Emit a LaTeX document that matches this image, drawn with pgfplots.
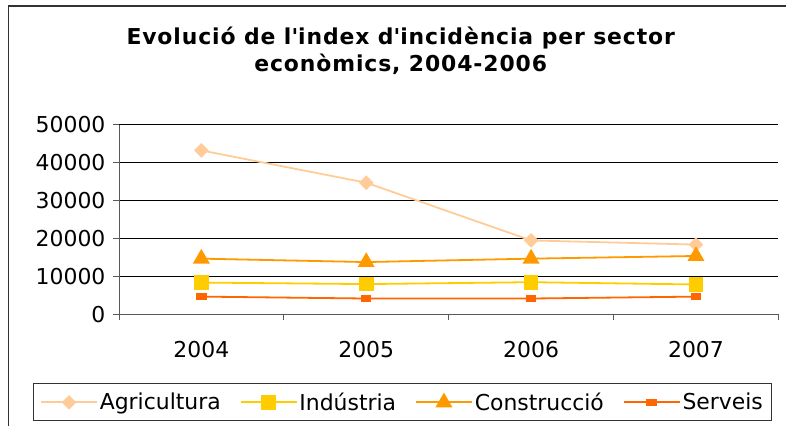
\documentclass[border=0pt]{standalone}
\usepackage{pgfplots}
\pgfplotsset{compat=1.18}
\usepackage{fontspec}
\setmainfont{DejaVu Sans}
\definecolor{cAgr}{HTML}{FFCC99}
\definecolor{cInd}{HTML}{FFCC00}
\definecolor{cCon}{HTML}{FF9900}
\definecolor{cSer}{HTML}{FF6600}
\begin{document}
\begin{tikzpicture}[x=1bp,y=1bp]
\path (0,0) rectangle (787,426);
\draw[line width=1.2bp,black!80] (8.5,0) -- (8.5,420) -- (787,420);
\node[align=center,font=\fontsize{22}{27}\selectfont\bfseries\addfontfeatures{LetterSpace=4}] at (401,375) {Evolució de l\textquotesingle index d\textquotesingle incidència per sector\\econòmics, 2004-2006};
\begin{axis}[
  at={(119bp,111.3bp)}, anchor=south west,
  scale only axis, width=660bp, height=190bp,
  xmin=0.5, xmax=4.5, ymin=0, ymax=50000,
  xtick={1,2,3,4}, xticklabels={2004,2005,2006,2007},
  minor xtick={0.5,1.5,2.5,3.5,4.5},
  major x tick style={draw=none},
  minor tick length=6bp,
  ytick={0,10000,20000,30000,40000,50000},
  major tick length=6bp,
  tick align=outside,
  axis x line*=bottom, axis y line*=left,
  axis line style={gray!70!black, line width=0.8bp},
  every tick/.style={gray!70!black, line width=0.8bp},
  ymajorgrids, grid style={black, line width=0.8bp},
  scaled y ticks=false,
  yticklabel style={/pgf/number format/fixed,/pgf/number format/1000 sep={}, xshift=-4bp},
  /pgf/number format/assume math mode=true,
  tick label style={font=\fontsize{22}{25}\selectfont},
  xticklabel style={yshift=-17bp},
  separate axis lines,
  legend columns=4,
  legend style={at={(0.43,-0.463)}, anchor=center, draw=black!80, line width=0.8bp,
    font=\fontsize{22}{25}\selectfont, inner xsep=7bp, inner ysep=7bp,
    /tikz/every even column/.append style={column sep=17bp}},
  legend image code/.code={\draw[mark repeat=2,mark phase=2] plot coordinates {(0bp,0bp) (28bp,0bp) (56bp,0bp)};},
  clip=false,
]
\addplot[color=cAgr, line width=1.8bp, mark=square*, mark size=4.3bp, mark options={rotate=45}] coordinates {(1,43200) (2,34700) (3,19500) (4,18400)};
\addlegendentry{Agricultura}
\addplot[color=cInd, line width=1.8bp, mark=square*, mark size=6.5bp] coordinates {(1,8400) (2,8000) (3,8500) (4,7900)};
\addlegendentry{Indústria}
\addplot[color=cCon, line width=1.8bp, mark=triangle*, mark size=8bp] coordinates {(1,14700) (2,13800) (3,14700) (4,15400)};
\addlegendentry{Construcció}
\addplot[color=cSer, line width=1.8bp, mark=square*, mark size=2.7bp, mark options={xscale=1.6}] coordinates {(1,4700) (2,4200) (3,4200) (4,4700)};
\addlegendentry{Serveis}
\end{axis}
\end{tikzpicture}
\end{document}
